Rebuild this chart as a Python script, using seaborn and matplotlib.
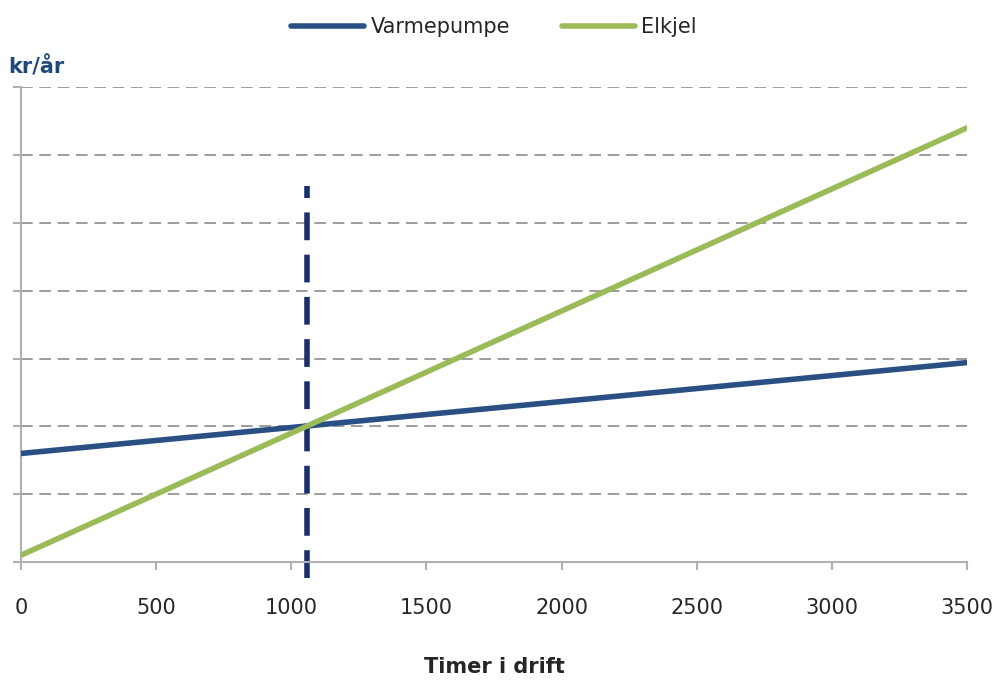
import numpy as np
import pandas as pd
import matplotlib.pyplot as plt
import seaborn as sns

# values (y in grid units, no labels on the y axis)
hours = [0, 3500]
varmepumpe = [1.60, 2.94]
elkjel = [0.10, 6.40]
break_even = 1058
y_ticks = [0, 1, 2, 3, 4, 5, 6, 7]
x_ticks = [0, 500, 1000, 1500, 2000, 2500, 3000, 3500]

df = pd.DataFrame({
    "Timer": hours * 2,
    "kr": varmepumpe + elkjel,
    "serie": ["Varmepumpe"] * 2 + ["Elkjel"] * 2,
})

sns.set_style("white")
plt.rcParams['font.family'] = ['DejaVu Sans']

fig = plt.figure(figsize=(10.04, 6.87), dpi=100)
ax = fig.add_axes([0.021, 0.182, 0.942, 0.691])

for y in y_ticks[1:]:
    ax.axhline(y, color="#8c8c8c", lw=1.2, ls=(0, (7, 4)), zorder=1)

ax.plot([break_even, break_even], [-0.24, 5.54], color="#1a2f6b", lw=4,
        ls=(0, (5, 2.6)), zorder=2, clip_on=False)

ax = sns.lineplot(data=df, x="Timer", y="kr", hue="serie", ax=ax,
                  palette={"Varmepumpe": "#2a5083", "Elkjel": "#9bbb59"},
                  lw=4, zorder=3)
ax.lines[-1].set_zorder(4)

ax.set_xlim(0, 3500)
ax.set_ylim(0, 7)
ax.set_xticks(x_ticks)
ax.set_yticks(y_ticks)
ax.set_yticklabels([])
ax.tick_params(axis="x", labelsize=15, length=6, width=1.5, color="#b0b0b0",
               pad=20, direction="out", bottom=True)
ax.tick_params(axis="y", length=6, width=1.5, color="#b0b0b0", direction="out", left=True)
for s in ["top", "right"]:
    ax.spines[s].set_visible(False)
for s in ["left", "bottom"]:
    ax.spines[s].set_color("#b0b0b0")
    ax.spines[s].set_linewidth(1.5)

ax.set_xlabel("Timer i drift", fontsize=15, fontweight="bold", labelpad=28)
ax.set_ylabel("")
fig.text(0.008, 0.893, "kr/år", fontsize=15, fontweight="bold", color="#1f497d")

ax.legend(loc="center", bbox_to_anchor=(0.5, 1.127), ncol=2, frameon=False,
          fontsize=15, handlelength=3.5, columnspacing=2.5, handletextpad=0.3)

plt.savefig("out.png", dpi=100)
